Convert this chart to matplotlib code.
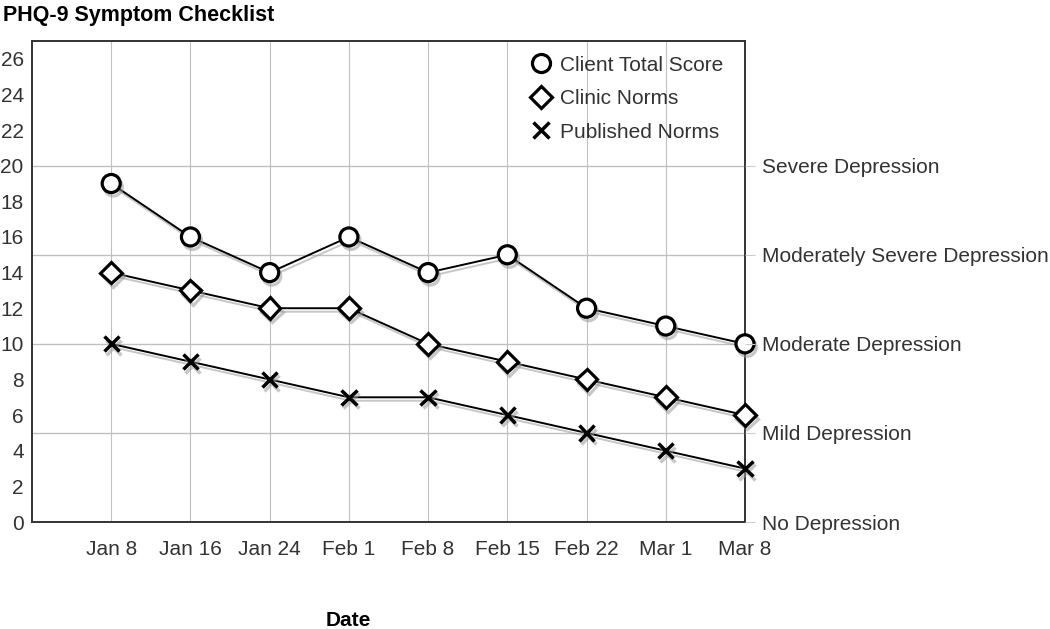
import matplotlib
matplotlib.use("Agg")
import matplotlib.pyplot as plt
import matplotlib.patheffects as pe

plt.rcParams["font.family"] = ["Liberation Sans", "DejaVu Sans"]

dates = ["Jan 8", "Jan 16", "Jan 24", "Feb 1", "Feb 8", "Feb 15", "Feb 22", "Mar 1", "Mar 8"]
client_total = [19, 16, 14, 16, 14, 15, 12, 11, 10]
clinic_norms = [14, 13, 12, 12, 10, 9, 8, 7, 6]
published_norms = [10, 9, 8, 7, 7, 6, 5, 4, 3]

severity_levels = [0, 5, 10, 15, 20]
severity_labels = ["No Depression", "Mild Depression", "Moderate Depression",
                   "Moderately Severe Depression", "Severe Depression"]

TEXT = "#333333"


def main():
    fig = plt.figure(figsize=(10.5, 6.29), dpi=100)
    ax = fig.add_axes([32 / 1050, 1 - 522 / 629, (745 - 32) / 1050, (522 - 41) / 629])

    x = list(range(len(dates)))
    shadow = [pe.SimpleLineShadow(offset=(1.5, -2.5), shadow_color="#999999", alpha=0.55),
              pe.Normal()]

    ax.plot(x, client_total, color="black", lw=1.4, marker="o", ms=13, mfc="white",
            mec="black", mew=2.3, label="Client Total Score", path_effects=shadow, zorder=5,
            clip_on=False)
    ax.plot(x, clinic_norms, color="black", lw=1.4, marker="D", ms=11, mfc="white",
            mec="black", mew=2.3, label="Clinic Norms", path_effects=shadow, zorder=5,
            clip_on=False)
    ax.plot(x, published_norms, color="black", lw=1.4, marker="x", ms=11,
            mec="black", mew=2.5, label="Published Norms", path_effects=shadow, zorder=5,
            clip_on=False)

    ax.set_xlim(-1, len(dates) - 1)
    ax.set_ylim(0, 27)
    ax.set_xticks(x)
    ax.set_xticklabels(dates)
    ax.set_yticks(range(0, 27, 2))
    ax.tick_params(axis="both", length=0, labelsize=15, colors=TEXT)
    ax.tick_params(axis="x", pad=13)
    ax.tick_params(axis="y", pad=6)

    for v in x:
        ax.axvline(v, color="#c0c0c0", lw=0.8, zorder=1)
    for lv in severity_levels[1:]:
        ax.axhline(lv, color="#c0c0c0", lw=1.0, zorder=1)

    for s in ax.spines.values():
        s.set_color("#333333")
        s.set_linewidth(1.4)

    ax2 = ax.twinx()
    ax2.set_ylim(0, 27)
    ax2.set_yticks(severity_levels)
    ax2.set_yticklabels(severity_labels)
    ax2.tick_params(axis="y", length=7, color="#cccccc", labelsize=15, labelcolor=TEXT, pad=5)
    for s in ax2.spines.values():
        s.set_visible(False)

    leg = ax.legend(loc="upper right", frameon=False, fontsize=15, handlelength=1.0,
                    handletextpad=0.4, labelspacing=0.7, borderaxespad=0.3,
                    bbox_to_anchor=(0.99, 1.0))
    for t in leg.get_texts():
        t.set_color(TEXT)
    for h in leg.legend_handles:
        h.set_linestyle("None")
        h.set_path_effects([])

    fig.text(3 / 1050, 1 - 15 / 629, "PHQ-9 Symptom Checklist", fontsize=15.5,
             fontweight="bold", va="center", ha="left")
    fig.text(348 / 1050, 1 - 621 / 629, "Date", fontsize=15, fontweight="bold",
             va="center", ha="center")

    fig.savefig("out.png", dpi=100)
    plt.close(fig)


if __name__ == "__main__":
    main()
